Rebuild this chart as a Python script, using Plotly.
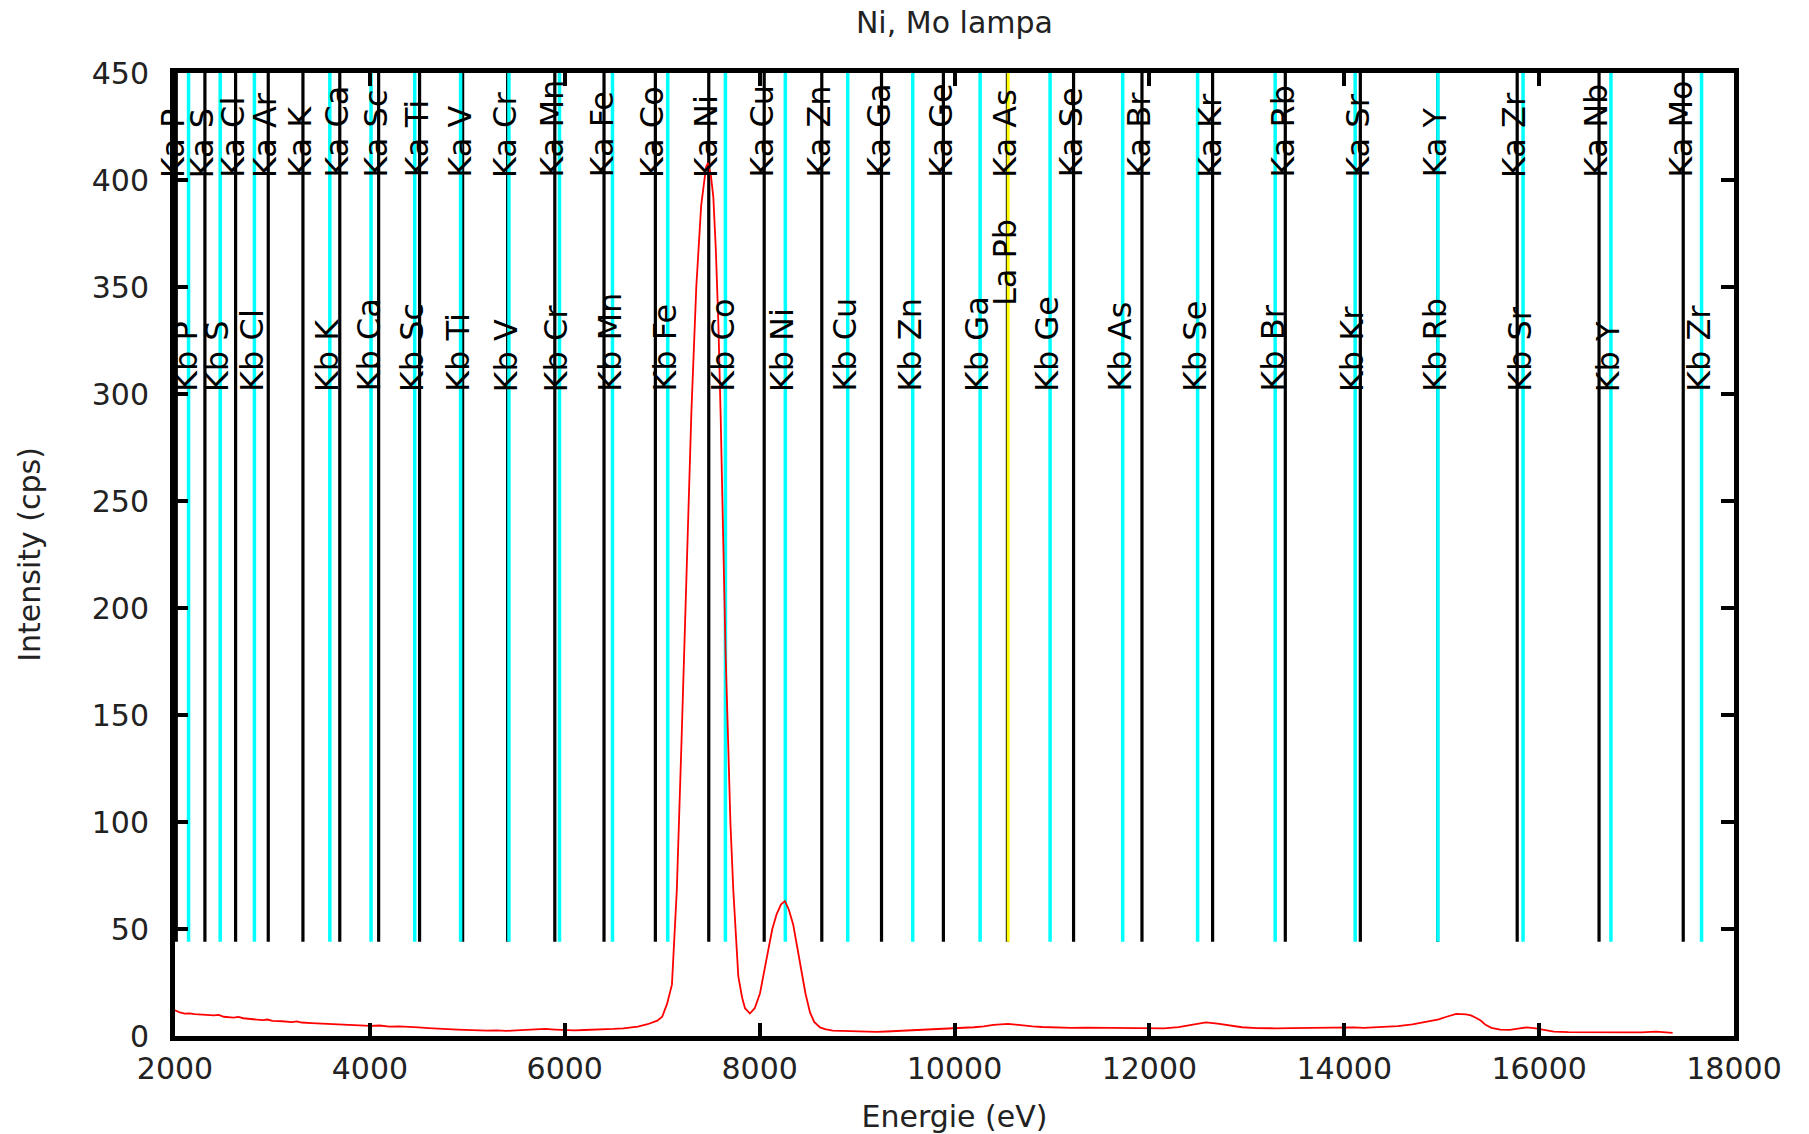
import plotly.graph_objects as go

# ---------------- data ----------------
energy_ev = [2000, 2050, 2100, 2150, 2200, 2300, 2400, 2450, 2500, 2600, 2650, 2700, 2800, 2900,
             2950, 3000, 3100, 3200, 3250, 3300, 3400, 3500, 3600, 3700, 3800, 3900, 4000, 4100,
             4200, 4300, 4400, 4500, 4600, 4700, 4800, 4900, 5000, 5100, 5200, 5300, 5400, 5500,
             5600, 5700, 5750, 5800, 5900, 6000, 6050, 6100, 6200, 6300, 6400, 6500, 6600, 6700,
             6750, 6850, 6950, 7000, 7050, 7100,
             7150, 7200, 7250, 7300, 7350, 7400, 7450, 7470, 7500, 7525, 7550, 7576, 7600, 7627,
             7650, 7679, 7700, 7730, 7760, 7781, 7820, 7850, 7900, 7950, 8004, 8050, 8090, 8130,
             8175, 8220, 8260, 8300, 8345, 8390, 8431, 8470, 8517, 8560, 8620, 8670, 8750, 8850,
             8950, 9100, 9200, 9300, 9400, 9500, 9600, 9700, 9850, 10000, 10100, 10200, 10300,
             10400, 10550, 10700, 10800, 10900, 11000, 11100, 11200, 11350,
             11500, 11650, 11800, 11900, 12000, 12100, 12150, 12300, 12450, 12580, 12700, 12800,
             12950, 13100, 13200, 13300, 13450,
             13600, 13700, 13800, 14000, 14100, 14200, 14300, 14400, 14550, 14700, 14850, 14970,
             15050, 15150, 15250,
             15300, 15350, 15400, 15450, 15510, 15600, 15700, 15800, 15870, 15950, 16010, 16080,
             16150, 16300, 16500, 16700, 16900, 17050, 17200, 17300, 17370]
intensity_cps = [12.0, 11.0, 10.5, 10.6, 10.2, 9.8, 9.6, 9.9, 9.0, 8.6, 8.9, 8.3, 8.0, 7.4,
                 7.7, 7.1, 6.9, 6.5, 6.8, 6.3, 6.0, 5.8, 5.5, 5.3, 5.0, 4.9, 4.7, 4.9,
                 4.4, 4.5, 4.1, 4.0, 3.7, 3.6, 3.2, 3.0, 2.8, 2.7, 2.5, 2.6, 2.4, 2.6,
                 2.9, 3.2, 3.4, 3.3, 3.0, 2.7, 2.4, 2.6, 2.8, 2.9, 3.1, 3.3, 3.6, 3.9,
                 4.4, 5.5, 7.2, 9.0, 15, 24,
                 68, 140, 222, 292, 350, 388, 406, 408, 402, 392, 368, 334, 290, 227,
                 180, 134, 100, 68, 42, 28, 18, 13, 10.5, 13, 20, 31, 41, 50,
                 57, 61.5, 63, 59, 52, 41, 30, 20, 11, 6.6, 4.0, 3.2, 2.5, 2.3,
                 2.1, 2.0, 1.9, 2.1, 2.3, 2.6, 2.9, 3.2, 3.4, 3.8, 3.7, 4.1, 4.5,
                 5.2, 5.7, 4.9, 4.5, 4.2, 4.0, 3.9, 3.8, 3.9,
                 3.8, 3.6, 3.7, 3.5, 3.6, 3.4, 3.6, 4.1, 5.5, 6.4, 5.8, 5.2,
                 4.1, 3.7, 3.5, 3.6, 3.7,
                 3.8, 4.0, 4.1, 3.9, 4.0, 3.8, 4.0, 4.2, 4.6, 5.4, 6.6, 7.8,
                 9.0, 10.3, 10.1,
                 9.6, 8.5, 7.2, 5.2, 3.8, 3.0, 2.9, 3.6, 4.0, 3.7, 3.2, 2.4,
                 2.0, 1.8, 1.7, 1.6, 1.5, 1.7, 2.0, 1.7, 1.5]

ka_labels = ["Ka P", "Ka S", "Ka Cl", "Ka Ar", "Ka K", "Ka Ca", "Ka Sc", "Ka Ti", "Ka V", "Ka Cr",
             "Ka Mn", "Ka Fe", "Ka Co", "Ka Ni", "Ka Cu", "Ka Zn", "Ka Ga", "Ka Ge", "Ka As",
             "Ka Se", "Ka Br", "Ka Kr", "Ka Rb", "Ka Sr", "Ka Y", "Ka Zr", "Ka Nb", "Ka Mo"]
ka_energy = [2013, 2307, 2622, 2957, 3313, 3691, 4090, 4510, 4952, 5414,
             5898, 6403, 6930, 7478, 8047, 8638, 9251, 9886, 10543,
             11222, 11924, 12649, 13395, 14165, 14958, 15775, 16615, 17479]

kb_labels = ["Kb P", "Kb S", "Kb Cl", "Kb K", "Kb Ca", "Kb Sc", "Kb Ti", "Kb V", "Kb Cr",
             "Kb Mn", "Kb Fe", "Kb Co", "Kb Ni", "Kb Cu", "Kb Zn", "Kb Ga", "Kb Ge", "Kb As",
             "Kb Se", "Kb Br", "Kb Kr", "Kb Rb", "Kb Sr", "Kb Y", "Kb Zr"]
kb_energy = [2139, 2464, 2815, 3589, 4012, 4460, 4931, 5427, 5946,
             6490, 7057, 7649, 8264, 8904, 9571, 10263, 10981, 11726,
             12495, 13291, 14112, 14961, 15835, 16737, 17667]

la_labels = ["La Pb"]
la_energy = [10551]

line_bottom = 44
line_top = 450
ka_label_y = 400
kb_label_y = 300
la_label_y = 340

x_ticks = [2000, 4000, 6000, 8000, 10000, 12000, 14000, 16000, 18000]
x_tick_text = ["2000", "4000", "6000", "8000", "10000", "12000", "14000", "16000", "18000"]
y_ticks = [0, 50, 100, 150, 200, 250, 300, 350, 400, 450]

FONT = "DejaVu Sans"
TXT = "#222222"


def vlines(energies):
    xs, ys = [], []
    for e in energies:
        xs += [e, e, None]
        ys += [line_bottom, line_top, None]
    return xs, ys


fig = go.Figure()

for energies, color, width in [(ka_energy, "#000000", 3.2), (kb_energy, "#00ffff", 3.5),
                               (la_energy, "#ffff00", 3)]:
    xs, ys = vlines(energies)
    fig.add_trace(go.Scatter(x=xs, y=ys, mode="lines", line=dict(color=color, width=width),
                             hoverinfo="skip", showlegend=False))

fig.add_trace(go.Scatter(x=energy_ev, y=intensity_cps, mode="lines",
                         line=dict(color="#ff0000", width=1.8), showlegend=False))

annotations = []
for labels, energies, ybase in [(ka_labels, ka_energy, ka_label_y),
                                (kb_labels, kb_energy, kb_label_y),
                                (la_labels, la_energy, la_label_y)]:
    for t, e in zip(labels, energies):
        annotations.append(dict(x=e, y=ybase, xref="x", yref="y", text=t, showarrow=False,
                                textangle=-90, xanchor="center", yanchor="bottom", xshift=-3,
                                font=dict(family=FONT, size=32, color="black")))

fig.update_layout(
    width=1809, height=1134,
    margin=dict(l=175, r=75, t=73, b=98, autoexpand=False),
    paper_bgcolor="white", plot_bgcolor="white",
    title=dict(text="Ni, Mo lampa", x=0.5276, xanchor="center", y=0.98, yanchor="middle",
               font=dict(family=FONT, size=30, color=TXT)),
    annotations=annotations,
    xaxis=dict(range=[2000, 18000], tickvals=x_ticks, ticktext=x_tick_text, ticks="inside",
               ticklen=13, tickwidth=4, automargin=False, ticklabelstandoff=2,
               tickcolor="black", showline=True, linewidth=5, linecolor="black", mirror="ticks",
               showgrid=False, zeroline=False,
               tickfont=dict(family=FONT, size=30, color=TXT),
               title=dict(text="Energie (eV)", font=dict(family=FONT, size=30, color=TXT),
                          standoff=22)),
    yaxis=dict(range=[0, 450], tickvals=y_ticks, ticks="inside", ticklen=13, tickwidth=4,
               tickcolor="black", showline=True, linewidth=5, linecolor="black", mirror="ticks",
               showgrid=False, zeroline=False, ticklabelstandoff=15, automargin=False,
               tickfont=dict(family=FONT, size=30, color=TXT),
               title=dict(text="Intensity (cps)", font=dict(family=FONT, size=30, color=TXT),
                          standoff=44)),
)

fig.write_html("out.html")
